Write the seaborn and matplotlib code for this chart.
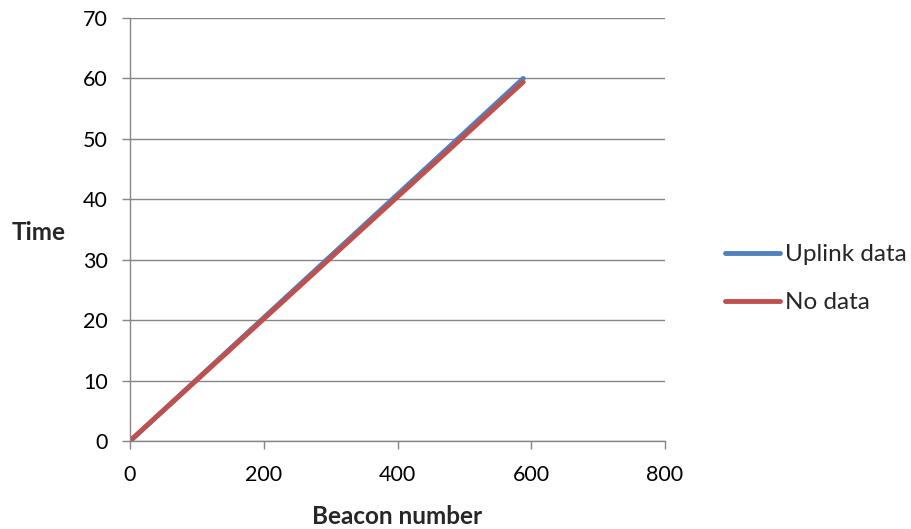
import matplotlib
matplotlib.use("Agg")
import matplotlib.pyplot as plt
import seaborn as sns
import pandas as pd

sns.set_theme(style="white")
plt.rcParams['font.family'] = ['Lato', 'DejaVu Sans']

beacon_uplink = [0, 100, 200, 300, 400, 500, 588]
time_uplink = [0, 10.2, 20.4, 30.6, 40.8, 51.0, 60.0]
beacon_nodata = [0, 100, 200, 300, 400, 500, 588]
time_nodata = [0, 10.1, 20.2, 30.3, 40.4, 50.5, 59.4]

series_names = ["Uplink data", "No data"]
colors = ["#4F81BD", "#C0504D"]

df = pd.concat([
    pd.DataFrame({"Beacon number": beacon_uplink, "Time": time_uplink, "Series": series_names[0]}),
    pd.DataFrame({"Beacon number": beacon_nodata, "Time": time_nodata, "Series": series_names[1]}),
])

fig = plt.figure(figsize=(9.11, 5.29), dpi=100)
ax = fig.add_axes([130/911, 1-441/529, (665-130)/911, (441-18)/529])

sns.lineplot(data=df, x="Beacon number", y="Time", hue="Series",
             palette=dict(zip(series_names, colors)), linewidth=3.5,
             solid_capstyle="round", ax=ax, legend=True)

FS = 15.5
FL = 17.5
ax.set_xlim(0, 800)
ax.set_ylim(0, 70)
ax.set_xticks(range(0, 801, 200))
ax.set_yticks(range(0, 71, 10))
ax.yaxis.grid(True, color="#868686", linewidth=1)
ax.xaxis.grid(False)
for s in ["top", "right"]:
    ax.spines[s].set_visible(False)
for s in ["left", "bottom"]:
    ax.spines[s].set_color("#868686")
    ax.spines[s].set_linewidth(1)
ax.tick_params(axis="both", which="both", direction="out", length=6, width=1,
               color="#868686", labelsize=FS, labelcolor="black", left=True, bottom=True)
ax.tick_params(axis="x", pad=11.5)
ax.tick_params(axis="y", pad=10)
ax.set_xlabel("Beacon number", fontsize=FL, fontweight="bold", va="center")
ax.xaxis.set_label_coords(0.5, (441-517)/423)
ax.set_ylabel("Time", fontsize=FL, fontweight="bold", rotation=0, va="center", ha="center")
ax.yaxis.set_label_coords((39-130)/535, (441-232)/423)
ax.set_axisbelow(True)

leg = ax.legend(loc="upper left", bbox_to_anchor=((725-130)/535, (441-244)/423), frameon=False,
                fontsize=FL, handlelength=2.26, handletextpad=0.2, labelspacing=1.12,
                borderaxespad=0, borderpad=0)

fig.savefig("out.png", dpi=100)
